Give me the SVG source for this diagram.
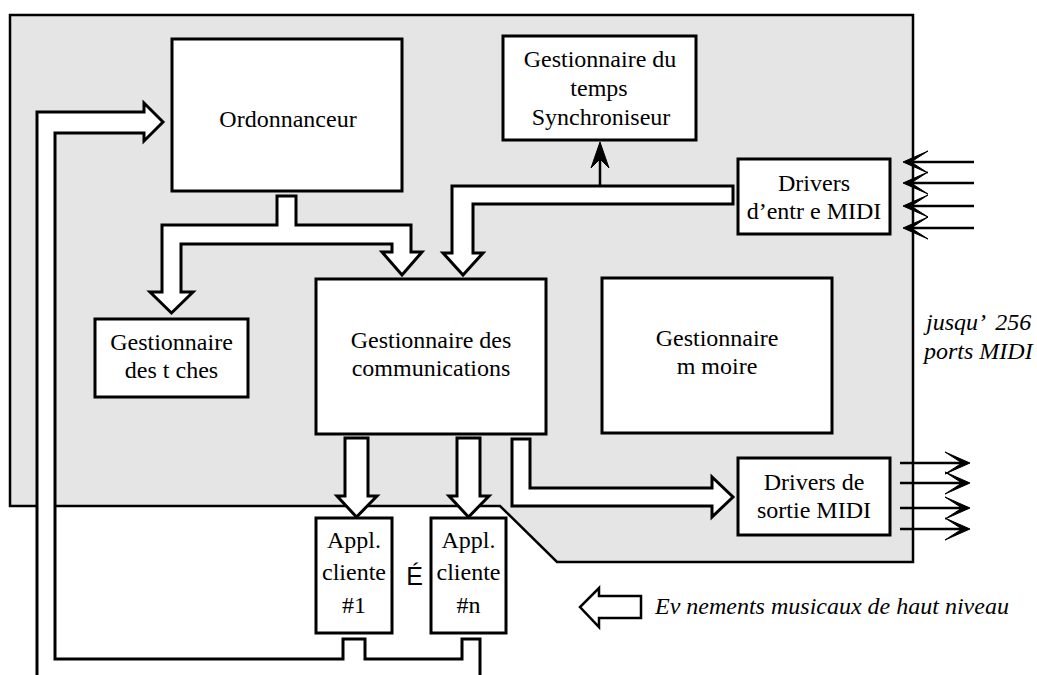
<svg xmlns="http://www.w3.org/2000/svg" width="1037" height="675" viewBox="0 0 1037 675">
<style>
.box{fill:#fff;stroke:#000;stroke-width:3}
.fat{fill:#fff;stroke:#000;stroke-width:3;stroke-linejoin:miter}
.thin{fill:none;stroke:#000;stroke-width:2.5}
.head{fill:#000;stroke:#000;stroke-width:1;stroke-linejoin:miter}
.lbl{font-size:24px;fill:#000;text-anchor:middle}
.it{font-style:italic;text-anchor:start}
</style>
<rect width="1037" height="675" fill="#fff"/>
<polygon id="system" points="10,15 913,15 913,562 557,562 500,506 10,506" fill="#e5e5e5" stroke="#000" stroke-width="2.5"/>
<g id="connectors">
<path class="fat" d="M37,690 L37,112 L144,112 L144,103 L163,122 L144,141 L144,133 L55,133 L55,659 L343,659 L343,639 L365,639 L365,659 L462,659 L462,639 L480,639 L480,690 Z"/>
<path class="fat" d="M277,196 L296,196 L296,225 L411,225 L411,252 L422,252 L402,275 L382,252 L392,252 L392,244 L181,244 L181,292 L193,292 L171.5,313 L150,292 L162,292 L162,225 L277,225 Z"/>
<path class="fat" d="M733,186 L733,204 L473,204 L473,253 L483,253 L463,275 L443,253 L452,253 L452,186 Z"/>
<line class="thin" x1="600" y1="186" x2="600" y2="150"/>
<path class="head" d="M600,142 L609,168 L600,159 L591,168 Z"/>
<path class="fat" d="M345,438 L368,438 L368,496 L377,496 L356.5,517 L337,496 L345,496 Z"/>
<path class="fat" d="M457,438 L480,438 L480,496 L489,496 L468.5,517 L449,496 L457,496 Z"/>
<path class="fat" d="M512,439 L530,439 L530,488 L712,488 L712,477 L733,497 L712,517 L712,506 L512,506 Z"/>
<g id="midi-in">
<line class="thin" x1="974" y1="162" x2="910" y2="162"/>
<line class="thin" x1="974" y1="183" x2="910" y2="183"/>
<line class="thin" x1="974" y1="206" x2="910" y2="206"/>
<line class="thin" x1="974" y1="228" x2="910" y2="228"/>
<path class="head" d="M903,162 L928,151 L911,162 L928,173 Z"/>
<path class="head" d="M903,183 L928,172 L911,183 L928,194 Z"/>
<path class="head" d="M903,206 L928,195 L911,206 L928,217 Z"/>
<path class="head" d="M903,228 L928,217 L911,228 L928,239 Z"/>
</g>
<g id="midi-out">
<line class="thin" x1="900" y1="463" x2="963" y2="463"/>
<line class="thin" x1="900" y1="483" x2="963" y2="483"/>
<line class="thin" x1="900" y1="508" x2="963" y2="508"/>
<line class="thin" x1="900" y1="529" x2="963" y2="529"/>
<path class="head" d="M970,463 L945,452 L962,463 L945,474 Z"/>
<path class="head" d="M970,483 L945,472 L962,483 L945,494 Z"/>
<path class="head" d="M970,508 L945,497 L962,508 L945,519 Z"/>
<path class="head" d="M970,529 L945,518 L962,529 L945,540 Z"/>
</g>
</g>
<g font-family="'Liberation Serif', 'Times New Roman', 'DejaVu Serif', serif">
<g id="ordonnanceur">
<rect class="box" x="172" y="39" width="230" height="152"/>
<text class="lbl" x="288" y="127">Ordonnanceur</text>
</g>
<g id="temps">
<rect class="box" x="503" y="36" width="193" height="104"/>
<text class="lbl" x="600" y="67">Gestionnaire du</text>
<text class="lbl" x="599" y="96">temps</text>
<text class="lbl" x="601" y="125">Synchroniseur</text>
</g>
<g id="drivers-in">
<rect class="box" x="738" y="159" width="152" height="75"/>
<text class="lbl" x="814" y="191">Drivers</text>
<text class="lbl" x="814" y="219">d’entr e MIDI</text>
</g>
<g id="taches">
<rect class="box" x="95" y="319" width="153" height="78"/>
<text class="lbl" x="171.5" y="350">Gestionnaire</text>
<text class="lbl" x="171.5" y="378">des t ches</text>
</g>
<g id="communications">
<rect class="box" x="316" y="279" width="230" height="155"/>
<text class="lbl" x="431" y="348">Gestionnaire des</text>
<text class="lbl" x="431" y="376">communications</text>
</g>
<g id="memoire">
<rect class="box" x="602" y="278" width="230" height="155"/>
<text class="lbl" x="717" y="346">Gestionnaire</text>
<text class="lbl" x="717" y="374">m moire</text>
</g>
<g id="drivers-out">
<rect class="box" x="738" y="458" width="152" height="77"/>
<text class="lbl" x="814" y="490">Drivers de</text>
<text class="lbl" x="814" y="518">sortie MIDI</text>
</g>
<g id="app1">
<rect class="box" x="316" y="518" width="76" height="115"/>
<text class="lbl" x="354" y="548">Appl.</text>
<text class="lbl" x="354" y="580">cliente</text>
<text class="lbl" x="354" y="613">#1</text>
</g>
<g id="appn">
<rect class="box" x="431" y="518" width="75" height="115"/>
<text class="lbl" x="468.5" y="548">Appl.</text>
<text class="lbl" x="468.5" y="580">cliente</text>
<text class="lbl" x="468.5" y="613">#n</text>
</g>
<g id="ports-note">
<text class="lbl it" x="926" y="330" xml:space="preserve">jusqu’  256</text>
<text class="lbl it" x="924" y="359">ports MIDI</text>
</g>
<g id="legend">
<path class="fat" d="M641,596 L641,618 L599,618 L599,627 L580,607 L599,588 L599,596 Z" style="stroke-width:2.5"/>
<text class="lbl it" x="655" y="614">Ev nements musicaux de haut niveau</text>
</g>
</g>
<text x="414.5" y="585" font-family="'Liberation Sans', Arial, sans-serif" font-size="25" text-anchor="middle">É</text>
</svg>
